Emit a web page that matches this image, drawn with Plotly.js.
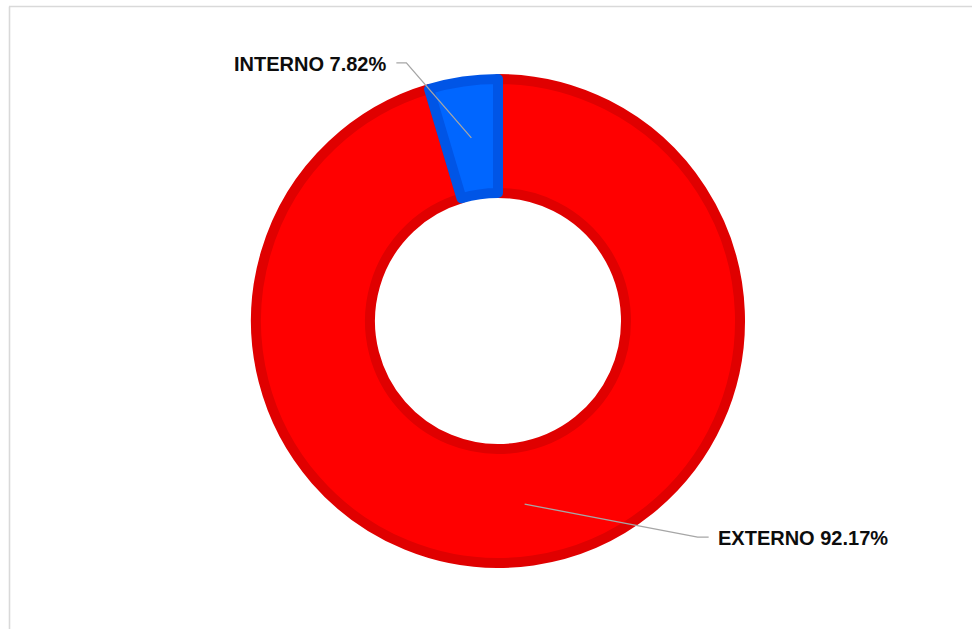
<!DOCTYPE html>
<html>
<head>
<meta charset="utf-8">
<script src="https://cdn.plot.ly/plotly-3.0.1.min.js"></script>
<style>
  html, body { margin: 0; padding: 0; background: #ffffff; }
  #chart { width: 972px; height: 629px; }
</style>
</head>
<body>
<div id="chart"></div>
<script>
// ---- data ----
var categories = ['EXTERNO', 'INTERNO'];
// slice shares as drawn in the picture (blue slice spans ~16.5 degrees)
var sliceShares = [95.4, 4.6];
// percentages printed on the labels
var printedPercent = ['92.17%', '7.82%'];

// ---- styling ----
var fillColors = ['#FF0000', '#0066FF'];
var edgeColors = ['#E00000', '#0055E6'];

var W = 972, H = 629;
var cx = 498, cy = 321;          // ring centre (px)
var lineW = 10;
var rPie = 242;                  // plotly pie radius (px)
var holeFrac = 0.529;
function px(x) { return x / W; }
function py(y) { return 1 - y / H; }

// anchor points for the leader lines: middle of each slice (clockwise from top), at mid-ring radius
var total = sliceShares.reduce(function (a, b) { return a + b; }, 0);
var midR = (rPie * holeFrac + rPie) / 2;
var anchors = [];
var acc = 0;
for (var i = 0; i < sliceShares.length; i++) {
  var mid = (acc + sliceShares[i] / 2) / total * 2 * Math.PI;
  anchors.push([cx + Math.sin(mid) * midR, cy - Math.cos(mid) * midR]);
  acc += sliceShares[i];
}

// label leader geometry (px offsets from anchors)
var elbowOff = [[173, 33], [-65, -75]];
var tailLen = [11, -10];

var shapes = [
  // partial chart frame (top and left edges)
  { type: 'line', xref: 'paper', yref: 'paper', x0: px(9), y0: py(6.5), x1: px(972), y1: py(6.5),
    line: { color: '#D9D9D9', width: 1.6 } },
  { type: 'line', xref: 'paper', yref: 'paper', x0: px(9.5), y0: py(6.5), x1: px(9.5), y1: py(629),
    line: { color: '#D9D9D9', width: 1.6 } }
];
var annotations = [];
for (var j = 0; j < categories.length; j++) {
  var a = anchors[j];
  var e = [a[0] + elbowOff[j][0], a[1] + elbowOff[j][1]];
  var t = [e[0] + tailLen[j], e[1]];
  shapes.push({
    type: 'path', xref: 'paper', yref: 'paper',
    path: 'M ' + px(a[0]) + ' ' + py(a[1]) + ' L ' + px(e[0]) + ' ' + py(e[1]) + ' L ' + px(t[0]) + ' ' + py(t[1]),
    line: { color: '#A6A6A6', width: 1.3 }
  });
  var left = tailLen[j] > 0;
  annotations.push({
    xref: 'paper', yref: 'paper',
    x: px(t[0] + (left ? 7 : -8)), y: py(t[1] + 1),
    xanchor: left ? 'left' : 'right', yanchor: 'middle',
    showarrow: false,
    text: '<b>' + categories[j] + ' ' + printedPercent[j] + '</b>',
    font: { family: 'Liberation Sans, Arial, sans-serif', size: 20, color: '#0D0D0D' }
  });
}

var trace = {
  type: 'pie',
  labels: categories,
  values: sliceShares,
  sort: false,
  direction: 'clockwise',
  rotation: 0,
  hole: holeFrac,
  textinfo: 'none',
  hoverinfo: 'skip',
  showlegend: false,
  marker: { colors: fillColors, line: { color: edgeColors, width: lineW } },
  domain: {
    x: [px(cx - rPie), px(cx + rPie)],
    y: [py(cy + rPie), py(cy - rPie)]
  }
};

var layout = {
  width: W, height: H,
  margin: { l: 0, r: 0, t: 0, b: 0 },
  paper_bgcolor: '#FFFFFF',
  plot_bgcolor: '#FFFFFF',
  showlegend: false,
  shapes: shapes,
  annotations: annotations
};

Plotly.newPlot('chart', [trace], layout, { staticPlot: true, displayModeBar: false });
</script>
</body>
</html>
